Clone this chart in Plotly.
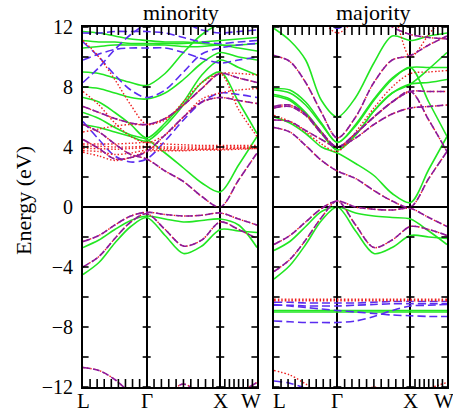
import plotly.graph_objects as go

# High-symmetry path of the fcc Brillouin zone (distances in units of 2*pi/a)
K_LABELS = ["L", "Γ", "X", "W"]
K_NODES = [0.0, 0.866, 1.866, 2.366]
SEG_STEPS = [4, 4, 2]          # sampled intervals per path segment
K_TICK_DIVS = [9, 10, 8]       # k-mesh tick divisions per segment

# Energies (eV) sampled at: L, 1/4, 1/2, 3/4, Γ, 1/4, 1/2, 3/4, X, 1/2, W
MIN_GREEN = [
    [-2.7, -2.2, -1.5, -0.9, -0.6, -0.8, -1.0, -0.9, -0.8, -1.2, -2.7],
    [-4.5, -3.7, -2.4, -1.3, -0.7, -1.9, -3.1, -2.6, -1.5, -1.6, -1.7],
    [6.3, 5.9, 5.3, 4.8, 4.5, 3.6, 2.6, 1.6, 1.0, 2.8, 4.7],
    [5.5, 5.3, 5.0, 4.7, 4.4, 5.4, 6.8, 8.3, 9.0, 7.0, 4.9],
    [7.3, 7.0, 6.3, 5.5, 4.6, 5.6, 7.0, 8.8, 9.8, 9.3, 8.8],
    [8.0, 7.9, 7.6, 7.3, 7.2, 7.6, 8.5, 9.6, 10.3, 10.0, 9.8],
    [9.0, 8.9, 8.6, 8.3, 8.1, 8.9, 10.3, 11.5, 12.2, 12.4, 12.5],
    [10.6, 10.7, 10.8, 10.8, 10.8, 10.8, 10.7, 10.7, 10.8, 10.6, 10.4],
    [11.1, 11.0, 11.0, 10.9, 10.9, 10.9, 10.9, 11.0, 11.1, 11.2, 11.3],
    [11.7, 11.6, 11.4, 11.2, 11.1, 11.0, 11.0, 10.9, 10.8, 10.8, 10.9],
]
MIN_PURPLE = [
    [-2.3, -1.9, -1.2, -0.6, -0.35, -0.5, -0.6, -0.55, -0.4, -0.8, -1.2],
    [-4.0, -3.3, -2.1, -1.0, -0.45, -1.5, -2.6, -2.2, -1.0, -1.5, -2.1],
    [-10.7, -10.9, -11.5, -12.4, -12.9, -12.6, -11.8, -12.6, -13.0, -12.4, -11.7],
    [5.5, 5.0, 4.2, 3.5, 3.2, 2.4, 1.7, 0.7, 0.0, 1.8, 3.6],
    [4.5, 3.9, 3.2, 3.3, 3.7, 4.8, 6.0, 7.0, 7.3, 7.1, 6.9],
    [6.7, 6.3, 5.9, 5.6, 5.5, 5.9, 6.8, 7.9, 8.9, 8.6, 8.3],
]
MIN_BLUE = [
    [11.6, 11.6, 11.7, 11.7, 11.7, 11.6, 11.3, 11.0, 10.9, 11.0, 11.1],
    [11.0, 10.0, 8.8, 7.8, 7.3, 7.8, 9.0, 10.2, 10.6, 10.8, 10.9],
    [9.8, 10.2, 10.5, 10.6, 10.6, 10.6, 10.3, 9.9, 9.6, 9.8, 10.0],
    [8.3, 9.3, 10.5, 11.5, 12.2, 12.6, 12.3, 11.8, 11.6, 11.7, 11.8],
    [5.7, 4.5, 3.4, 3.0, 3.2, 4.4, 5.8, 7.0, 7.6, 7.5, 7.3],
]
MIN_RED = [
    [4.2, 4.2, 4.2, 4.25, 4.3, 4.2, 4.15, 4.1, 4.1, 4.1, 4.1],
    [4.05, 4.05, 4.0, 4.0, 4.05, 4.0, 4.0, 4.0, 4.0, 4.0, 4.0],
    [3.9, 3.9, 3.85, 3.9, 3.95, 3.9, 3.9, 3.9, 3.9, 3.95, 4.0],
    [3.75, 3.7, 3.5, 3.6, 3.8, 3.8, 3.8, 3.85, 3.85, 3.9, 3.9],
    [3.65, 3.4, 3.1, 3.3, 3.7, 3.75, 3.75, 3.8, 3.8, 3.85, 3.9],
    [7.7, 6.8, 5.6, 4.7, 4.3, 4.8, 6.0, 7.2, 7.6, 7.8, 7.9],
    [5.0, 5.2, 5.4, 5.5, 5.5, 5.8, 7.0, 8.3, 8.9, 8.9, 8.8],
    [11.1, 10.0, 8.5, 6.8, 5.5, 5.9, 6.8, 7.9, 8.9, 6.5, 4.7],
]

MAJ_GREEN = [
    [-2.9, -2.3, -1.3, -0.3, 0.0, -0.4, -0.6, -0.7, -0.8, -1.6, -2.5],
    [-4.8, -3.9, -2.5, -0.9, 0.0, -1.6, -3.1, -2.7, -1.9, -2.0, -2.1],
    [-6.9, -6.9, -6.9, -6.9, -6.9, -6.9, -6.9, -6.9, -6.9, -6.9, -6.9],
    [-7.0, -7.0, -7.0, -7.0, -7.0, -7.0, -7.0, -7.0, -7.0, -7.0, -7.0],
    [11.9, 11.1, 9.8, 7.1, 6.0, 7.3, 9.6, 11.4, 11.1, 11.4, 11.6],
    [7.9, 7.8, 7.0, 5.6, 4.3, 5.5, 7.2, 8.6, 9.3, 9.3, 9.3],
    [7.8, 7.6, 6.8, 5.5, 4.3, 5.4, 7.1, 8.5, 9.3, 7.0, 4.7],
    [7.5, 7.2, 6.3, 5.0, 3.8, 4.8, 6.4, 7.6, 8.2, 9.2, 10.3],
    [7.4, 7.1, 6.2, 4.9, 3.8, 4.8, 6.4, 7.6, 8.2, 8.3, 8.5],
    [6.0, 5.6, 4.9, 4.0, 3.6, 2.9, 2.1, 0.9, 0.3, 2.5, 4.7],
    [14.0, 14.0, 13.5, 12.6, 12.0, 12.6, 13.5, 14.0, 14.0, 14.0, 14.0],
]
MAJ_PURPLE = [
    [-2.5, -1.9, -1.0, -0.1, 0.4, 0.0, -0.15, -0.2, -0.1, -0.7, -1.3],
    [-4.3, -3.5, -2.2, -0.7, 0.4, -1.2, -2.7, -2.2, -1.3, -1.5, -1.9],
    [10.1, 9.7, 8.3, 6.3, 4.6, 6.0, 8.3, 9.8, 10.1, 10.8, 11.4],
    [6.7, 6.8, 6.2, 5.0, 4.0, 4.9, 6.0, 7.0, 7.7, 7.7, 7.7],
    [6.6, 6.7, 6.1, 4.9, 4.0, 4.9, 6.0, 7.0, 7.7, 5.8, 3.7],
    [5.8, 5.7, 5.1, 4.5, 4.0, 4.6, 5.5, 6.2, 6.6, 6.7, 6.8],
    [5.3, 5.0, 4.1, 3.1, 2.4, 1.9, 1.1, 0.4, 0.0, 1.9, 3.7],
    [14.0, 14.0, 14.0, 14.0, 14.0, 13.5, 12.8, 12.0, 11.5, 11.3, 11.2],
]
MAJ_BLUE = [
    [-6.35, -6.35, -6.4, -6.4, -6.4, -6.4, -6.35, -6.3, -6.3, -6.3, -6.3],
    [-6.55, -6.55, -6.6, -6.6, -6.6, -6.55, -6.5, -6.45, -6.45, -6.45, -6.45],
    [-7.6, -7.65, -7.7, -7.7, -7.7, -7.6, -7.3, -6.9, -6.6, -6.55, -6.5],
    [-6.5, -6.6, -6.7, -6.8, -6.9, -7.0, -7.1, -7.2, -7.25, -7.3, -7.3],
    [-11.6, -11.75, -12.1, -12.6, -13.0, -13.0, -12.8, -12.6, -12.5, -12.2, -12.0],
    [14.0, 14.0, 13.8, 12.8, 11.9, 12.8, 13.8, 14.0, 14.0, 14.0, 14.0],
]
MAJ_RED = [
    [-6.15, -6.15, -6.15, -6.15, -6.15, -6.15, -6.15, -6.15, -6.15, -6.15, -6.15],
    [-6.25, -6.25, -6.25, -6.25, -6.25, -6.25, -6.25, -6.25, -6.25, -6.25, -6.25],
    [-10.9, -11.2, -11.8, -12.5, -13.0, -12.6, -12.0, -12.4, -12.6, -12.1, -11.7],
    [6.1, 5.7, 5.0, 4.2, 3.7, 5.0, 6.6, 8.0, 8.9, 9.0, 9.1],
    [14.0, 14.0, 13.5, 12.5, 11.6, 12.5, 13.5, 14.0, 14.0, 14.0, 14.0],
    [14.0, 14.0, 14.0, 14.0, 14.0, 14.0, 14.0, 13.0, 10.0, 11.5, 13.0],
]

Y_LABELED = [-12, -8, -4, 0, 4, 8, 12]
Y_RANGE = [-12, 12]
Y_TICK_STEP = 2
PANEL_TITLES = ["minority", "majority"]

GREEN = "#22e622"
BLUE = "#5a2cf0"
PURPLE = "#8c1a9c"
RED = "#ee2020"
FONT = "Liberation Serif, Times New Roman, Times, serif"

W, H = 453, 413
M_TOP, M_BOT = 27, 26
PLOT_H = H - M_TOP - M_BOT
DOMAINS = [[83 / W, 257 / W], [274 / W, 447 / W]]
TICK_PX = 8

# k-grid along the path
kgrid = []
for i, n in enumerate(SEG_STEPS):
    a, b = K_NODES[i], K_NODES[i + 1]
    start = 0 if i == 0 else 1
    for j in range(start, n + 1):
        kgrid.append(a + (b - a) * j / n)


def joined(bands):
    xs, ys = [], []
    for band in bands:
        xs += kgrid + [None]
        ys += list(band) + [None]
    return xs, ys


def k_mesh_ticks(counts):
    vals = []
    for i, n in enumerate(counts):
        a, b = K_NODES[i], K_NODES[i + 1]
        vals += [a + (b - a) * j / n for j in range(1, n)]
    return vals


fig = go.Figure()

panels = [
    (MIN_GREEN, MIN_BLUE, MIN_RED, MIN_PURPLE),
    (MAJ_GREEN, MAJ_BLUE, MAJ_RED, MAJ_PURPLE),
]
for p, (greens, blues, reds, purples) in enumerate(panels):
    xa = "x" if p == 0 else "x2"
    ya = "y" if p == 0 else "y2"
    styles = [
        (greens, GREEN, "solid", 1.6),
        (blues, BLUE, "8px,4px", 1.6),
        (reds, RED, "1.5px,2px", 1.4),
        (purples, RED, "1.5px,2px", 1.4),
        (purples, PURPLE, "7px,3px", 1.6),
    ]
    for bands, color, dash, width in styles:
        xs, ys = joined(bands)
        fig.add_trace(go.Scatter(
            x=xs, y=ys, mode="lines", xaxis=xa, yaxis=ya,
            line=dict(color=color, dash=dash, width=width, shape="spline", smoothing=0.9),
            hoverinfo="skip", showlegend=False,
        ))

kticks = k_mesh_ticks(K_TICK_DIVS)
ytickvals = list(range(Y_RANGE[0], Y_RANGE[1] + 1, Y_TICK_STEP))
xr = [K_NODES[0], K_NODES[-1]]

for p in range(2):
    sfx = "" if p == 0 else "2"
    xa, ya = "x" + sfx, "y" + sfx
    fig.layout["xaxis" + sfx] = dict(
        domain=DOMAINS[p], range=xr, automargin=False,
        tickmode="array", tickvals=K_NODES, showticklabels=False,
        ticks="", showgrid=True, gridcolor="black", gridwidth=1.5,
        showline=True, linecolor="black", linewidth=2, mirror=True,
        zeroline=False, anchor=ya,
    )
    fig.layout["yaxis" + sfx] = dict(
        range=Y_RANGE, automargin=False, tickmode="array", tickvals=Y_LABELED,
        ticks="", showgrid=False, ticklabelstandoff=4,
        showline=True, linecolor="black", linewidth=2, mirror=True,
        zeroline=True, zerolinecolor="black", zerolinewidth=1.5,
        showticklabels=(p == 0), anchor=xa,
        tickfont=dict(family=FONT, size=20, color="black"),
    )

    # tick marks drawn as short segments, sized in pixels via the axis scales
    panel_w = (DOMAINS[p][1] - DOMAINS[p][0]) * W
    dk = TICK_PX * (xr[1] - xr[0]) / panel_w
    de = TICK_PX * (Y_RANGE[1] - Y_RANGE[0]) / PLOT_H
    tx, ty = [], []
    for kv in kticks:
        tx += [kv, kv, None, kv, kv, None]
        ty += [Y_RANGE[0], Y_RANGE[0] + de, None, Y_RANGE[1] - de, Y_RANGE[1], None]
    for e in ytickvals:
        tx += [xr[0], xr[0] + dk * 0.7, None, xr[1] - dk * 0.7, xr[1], None]
        ty += [e, e, None, e, e, None]
        for kv in K_NODES[1:3]:
            tx += [kv - dk / 2, kv + dk / 2, None]
            ty += [e, e, None]
    fig.add_trace(go.Scatter(
        x=tx, y=ty, mode="lines", xaxis=xa, yaxis=ya, cliponaxis=False,
        line=dict(color="black", width=1.6), hoverinfo="skip", showlegend=False,
    ))

annotations = []
# k-point labels below each panel
label_shift = {(0, 3): -6, (1, 0): 5, (1, 3): -3}
for p in range(2):
    xref = "x" if p == 0 else "x2"
    for i, (kv, lab) in enumerate(zip(K_NODES, K_LABELS)):
        annotations.append(dict(
            text=lab, x=kv, y=0, xref=xref, yref="paper",
            xanchor="center", yanchor="top", yshift=0,
            xshift=label_shift.get((p, i), 0), showarrow=False,
            font=dict(family=FONT, size=21, color="black"),
        ))

annotations += [
    dict(text=PANEL_TITLES[0], x=181 / W, y=1.0, xref="paper", yref="paper",
         xanchor="center", yanchor="bottom", showarrow=False,
         font=dict(family=FONT, size=22, color="black")),
    dict(text=PANEL_TITLES[1], x=373 / W, y=1.0, xref="paper", yref="paper",
         xanchor="center", yanchor="bottom", showarrow=False,
         font=dict(family=FONT, size=22, color="black")),
    dict(text="Energy (eV)", x=24 / W, y=0.517, xref="paper", yref="paper",
         xanchor="center", yanchor="middle", textangle=-90, showarrow=False,
         font=dict(family=FONT, size=22, color="black")),
]

fig.update_layout(
    width=W, height=H,
    margin=dict(l=0, r=0, t=M_TOP, b=M_BOT),
    paper_bgcolor="white", plot_bgcolor="white",
    annotations=annotations,
)

fig.write_html("out.html")
